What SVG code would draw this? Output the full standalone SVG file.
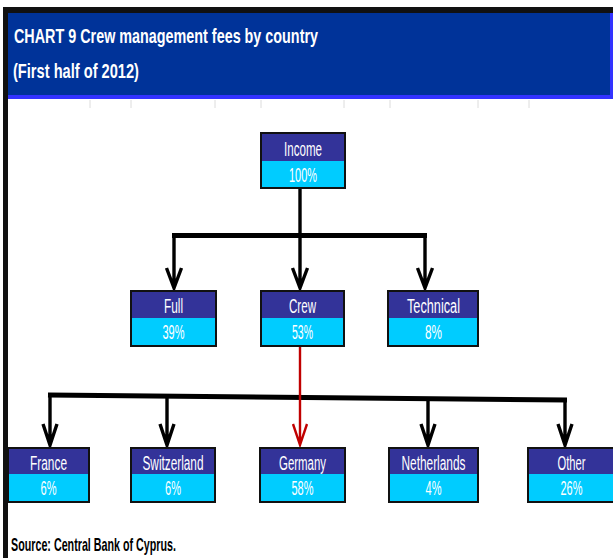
<svg xmlns="http://www.w3.org/2000/svg" width="613" height="558" viewBox="0 0 613 558">
<defs>
<style>
.hd{fill:#333399}
.pc{fill:#00ccff}
.bx{fill:none;stroke:#111;stroke-width:2}
.lb{font-family:"Liberation Sans",Arial,sans-serif;font-size:19.5px;fill:#fff;text-anchor:middle}
.ttl{font-family:"Liberation Sans",Arial,sans-serif;font-size:21px;font-weight:bold;fill:#fff}
.src{font-family:"Liberation Sans",Arial,sans-serif;font-size:18.5px;font-weight:bold;fill:#000}
.ln{fill:none;stroke:#000;stroke-width:3.4;stroke-linejoin:miter}
.bar{fill:none;stroke:#000;stroke-width:5}
.red{fill:none;stroke:#c00000;stroke-width:2.4}
.grid{stroke:#dcdcdc;stroke-width:1}
</style>
</defs>
<rect width="613" height="558" fill="#fff"/>
<!-- frame and header -->
<rect x="3" y="7" width="610" height="6" fill="#111"/>
<rect x="3" y="7" width="5" height="551" fill="#111"/>
<rect x="8" y="13" width="605" height="86" fill="#3333ff"/>
<rect x="8" y="13" width="602" height="82" fill="#003399"/>
<g class="grid">
<line x1="90" y1="100" x2="90" y2="108"/><line x1="131" y1="100" x2="131" y2="108"/>
<line x1="215" y1="100" x2="215" y2="108"/><line x1="261" y1="100" x2="261" y2="108"/>
<line x1="344" y1="100" x2="344" y2="108"/><line x1="390" y1="100" x2="390" y2="108"/>
<line x1="478" y1="100" x2="478" y2="108"/><line x1="529" y1="100" x2="529" y2="108"/>
</g>
<text class="ttl" x="14" y="42.5" textLength="304" lengthAdjust="spacingAndGlyphs">CHART 9  Crew management fees by country</text>
<text class="ttl" x="13" y="77.5" textLength="126" lengthAdjust="spacingAndGlyphs">(First half of 2012)</text>

<!-- connectors -->
<g id="connectors">
<line class="ln" x1="300" y1="188" x2="300" y2="236"/>
<line class="bar" x1="172" y1="235.5" x2="427" y2="235.5"/>
<path class="ln" d="M174 235 V288 M166.5 268 L174 288 L181.5 268"/>
<path class="ln" d="M300 235 V288 M292.5 268 L300 288 L307.5 268"/>
<path class="ln" d="M425 235 V288 M417.5 268 L425 288 L432.5 268"/>
<line class="bar" x1="48" y1="395" x2="567" y2="400"/>
<path class="ln" d="M50 395 V445 M43 424 L50 445 L57 424"/>
<path class="ln" d="M167 396 V445 M160 424 L167 445 L174 424"/>
<path class="ln" d="M428 398 V445 M421 424 L428 445 L435 424"/>
<path class="ln" d="M565 399 V445 M558 424 L565 445 L572 424"/>
<path class="red" d="M300 346 V445 M293 424 L300 445 L307 424"/>
</g>

<g id="income">
<rect class="hd" x="261" y="133" width="84" height="28"/><rect class="pc" x="261" y="161" width="84" height="27"/><rect class="bx" x="261" y="133" width="84" height="55"/>
<text class="lb" x="303" y="156" textLength="38" lengthAdjust="spacingAndGlyphs">Income</text>
<text class="lb" x="303" y="181.5" textLength="28" lengthAdjust="spacingAndGlyphs">100%</text>
</g>
<g id="full">
<rect class="hd" x="131" y="291" width="85" height="27"/><rect class="pc" x="131" y="318" width="85" height="28"/><rect class="bx" x="131" y="291" width="85" height="55"/>
<text class="lb" x="173.5" y="313" textLength="19" lengthAdjust="spacingAndGlyphs">Full</text>
<text class="lb" x="173.5" y="338.5" textLength="22" lengthAdjust="spacingAndGlyphs">39%</text>
</g>
<g id="crew">
<rect class="hd" x="261" y="291" width="83" height="27"/><rect class="pc" x="261" y="318" width="83" height="28"/><rect class="bx" x="261" y="291" width="83" height="55"/>
<text class="lb" x="302.5" y="313" textLength="27" lengthAdjust="spacingAndGlyphs">Crew</text>
<text class="lb" x="302.5" y="338.5" textLength="21" lengthAdjust="spacingAndGlyphs">53%</text>
</g>
<g id="technical">
<rect class="hd" x="388" y="291" width="90" height="27"/><rect class="pc" x="388" y="318" width="90" height="28"/><rect class="bx" x="388" y="291" width="90" height="55"/>
<text class="lb" x="433.5" y="313" textLength="53" lengthAdjust="spacingAndGlyphs">Technical</text>
<text class="lb" x="433.5" y="338.5" textLength="17" lengthAdjust="spacingAndGlyphs">8%</text>
</g>
<g id="france">
<rect class="hd" x="8" y="448" width="81" height="26"/><rect class="pc" x="8" y="474" width="81" height="28"/><rect class="bx" x="8" y="448" width="81" height="54"/>
<text class="lb" x="48.5" y="469.5" textLength="37" lengthAdjust="spacingAndGlyphs">France</text>
<text class="lb" x="48.5" y="494.5" textLength="16" lengthAdjust="spacingAndGlyphs">6%</text>
</g>
<g id="switzerland">
<rect class="hd" x="131" y="448" width="84" height="26"/><rect class="pc" x="131" y="474" width="84" height="28"/><rect class="bx" x="131" y="448" width="84" height="54"/>
<text class="lb" x="173" y="469.5" textLength="61" lengthAdjust="spacingAndGlyphs">Switzerland</text>
<text class="lb" x="173" y="494.5" textLength="16" lengthAdjust="spacingAndGlyphs">6%</text>
</g>
<g id="germany">
<rect class="hd" x="260" y="448" width="85" height="26"/><rect class="pc" x="260" y="474" width="85" height="28"/><rect class="bx" x="260" y="448" width="85" height="54"/>
<text class="lb" x="302.5" y="469.5" textLength="47" lengthAdjust="spacingAndGlyphs">Germany</text>
<text class="lb" x="302.5" y="494.5" textLength="22" lengthAdjust="spacingAndGlyphs">58%</text>
</g>
<g id="netherlands">
<rect class="hd" x="389" y="448" width="89" height="26"/><rect class="pc" x="389" y="474" width="89" height="28"/><rect class="bx" x="389" y="448" width="89" height="54"/>
<text class="lb" x="433.5" y="469.5" textLength="64" lengthAdjust="spacingAndGlyphs">Netherlands</text>
<text class="lb" x="433.5" y="494.5" textLength="16" lengthAdjust="spacingAndGlyphs">4%</text>
</g>
<g id="other">
<rect class="hd" x="528" y="448" width="87" height="26"/><rect class="pc" x="528" y="474" width="87" height="28"/><rect class="bx" x="528" y="448" width="87" height="54"/>
<text class="lb" x="571.5" y="469.5" textLength="28" lengthAdjust="spacingAndGlyphs">Other</text>
<text class="lb" x="571.5" y="494.5" textLength="22" lengthAdjust="spacingAndGlyphs">26%</text>
</g>
<text class="src" x="11" y="551" textLength="165" lengthAdjust="spacingAndGlyphs">Source: Central Bank of Cyprus.</text>
</svg>
